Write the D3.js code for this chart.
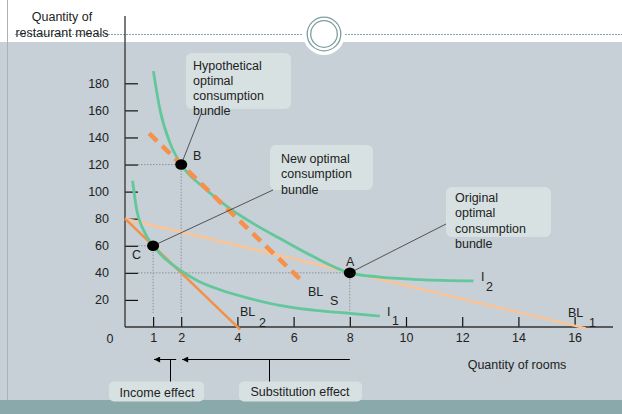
<!DOCTYPE html>
<html>
<head>
<meta charset="utf-8">
<script src="https://cdn.jsdelivr.net/npm/d3@7"></script>
<style>
  body { margin: 0; background: #fff; }
  svg { display: block; font-family: 'Liberation Sans', Arial, sans-serif; }
</style>
</head>
<body>
<div id="container"></div>
<script>
const w = 622
const h = 414
const fs = 12.5

// data
const xTicks = [1, 2, 4, 6, 8, 10, 12, 14, 16]
const yTicks = [20, 40, 60, 80, 100, 120, 140, 160, 180]
const bl1 = [[0, 80], [16.4, -1]]
const bl2 = [[0, 80], [4.1, -2]]
const blS = [[0.86, 143], [6.35, 33]]
const i1 = [[0.27, 108], [0.42, 86], [0.65, 72], [1, 60], [1.45, 50], [1.96, 42], [2.6, 34], [3.38, 27.5], [4.45, 21], [5.5, 16], [6.7, 12.5], [8, 10], [9.07, 8]]
const i2 = [[1.01, 189], [1.25, 160], [1.6, 136], [2, 120], [2.8, 103], [3.7, 88], [4.6, 76], [5.5, 65.5], [6.7, 52], [8, 40], [9, 37], [10.5, 35], [12.4, 34]]
const points = [
  { name: 'A', x: 8, y: 40 },
  { name: 'B', x: 2, y: 120 },
  { name: 'C', x: 1, y: 60 }
]

const svg = d3.select('#container')
              .append('svg')
              .attr('width', w)
              .attr('height', h)

// background
svg.append('rect').attr('x', 0).attr('y', 0).attr('width', w).attr('height', h).attr('fill', '#fff')
svg.append('rect').attr('x', 0).attr('y', 42).attr('width', w).attr('height', 358).attr('fill', '#c6d0d6')
svg.append('rect').attr('x', 0).attr('y', 400).attr('width', w).attr('height', 14).attr('fill', '#8aa9aa')
svg.append('line').attr('x1', 7.5).attr('x2', 7.5).attr('y1', 0).attr('y2', 400)
   .attr('stroke', '#a9b3b8').attr('stroke-width', 1)
svg.append('line').attr('x1', 15).attr('x2', w).attr('y1', 34.5).attr('y2', 34.5)
   .attr('stroke', '#86a6ad').attr('stroke-width', 1).attr('stroke-dasharray', '2,1')
svg.append('circle').attr('cx', 324).attr('cy', 34).attr('r', 21).attr('fill', '#fff')
svg.append('circle').attr('cx', 324).attr('cy', 34).attr('r', 16.8).attr('fill', 'none')
   .attr('stroke', '#7f9ea0').attr('stroke-width', 1.3)
svg.append('circle').attr('cx', 324).attr('cy', 34).attr('r', 13.3).attr('fill', 'none')
   .attr('stroke', '#7f9ea0').attr('stroke-width', 1.3)

svg.append('text').attr('x', 62).attr('y', 21).attr('text-anchor', 'middle')
   .attr('font-size', fs).attr('fill', '#222').text('Quantity of')
svg.append('text').attr('x', 62).attr('y', 37).attr('text-anchor', 'middle')
   .attr('font-size', fs).attr('fill', '#222').text('restaurant meals')

// Scales
const xScale = d3.scaleLinear().domain([0, 16]).range([125, 574.6])
const yScale = d3.scaleLinear().domain([0, 180]).range([327, 83.3])

// Axis
const xAxis = d3.axisBottom(xScale).tickValues(xTicks).tickSize(-10).tickPadding(6)
const yAxis = d3.axisLeft(yScale).tickValues(yTicks).tickSize(-13).tickPadding(16)

const gx = svg.append('g').attr('transform', 'translate(0,' + yScale(0) + ')').call(xAxis)
const gy = svg.append('g').attr('transform', 'translate(' + xScale(0) + ',0)').call(yAxis)
;[gx, gy].forEach(g => {
  g.select('.domain').remove()
  g.selectAll('line').attr('stroke', '#111').attr('stroke-width', 1.2)
  g.selectAll('text').attr('font-size', fs).attr('fill', '#222')
   .style('font-family', "'Liberation Sans', Arial, sans-serif")
})
svg.append('text').attr('x', 110).attr('y', yScale(0) + 16).attr('text-anchor', 'middle')
   .attr('font-size', fs).attr('fill', '#222').text('0')
svg.append('line').attr('x1', xScale(0)).attr('x2', 613).attr('y1', yScale(0)).attr('y2', yScale(0))
   .attr('stroke', '#333').attr('stroke-width', 1.3)
svg.append('line').attr('x1', xScale(0)).attr('x2', xScale(0)).attr('y1', 16).attr('y2', yScale(0))
   .attr('stroke', '#333').attr('stroke-width', 1.3)
svg.append('text').attr('x', 517).attr('y', 369).attr('text-anchor', 'middle')
   .attr('font-size', fs).attr('fill', '#222').text('Quantity of rooms')

// dotted guides
const guides = svg.append('g').attr('stroke', '#8c959a').attr('stroke-width', 1).attr('stroke-dasharray', '1.5,1.5')
points.forEach(p => {
  guides.append('line').attr('x1', 138).attr('x2', xScale(p.x)).attr('y1', yScale(p.y)).attr('y2', yScale(p.y))
  guides.append('line').attr('x1', xScale(p.x)).attr('x2', xScale(p.x)).attr('y1', yScale(p.y)).attr('y2', 313)
})

// lines
const line = d3.line().x(d => xScale(d[0])).y(d => yScale(d[1]))
const curve = d3.line().x(d => xScale(d[0])).y(d => yScale(d[1])).curve(d3.curveMonotoneX)

svg.append('path').attr('d', line(bl1)).attr('fill', 'none').attr('stroke', '#fcc496').attr('stroke-width', 2.5)
svg.append('path').attr('d', line(bl2)).attr('fill', 'none').attr('stroke', '#f39148').attr('stroke-width', 2.5)
svg.append('path').attr('d', curve(i1)).attr('fill', 'none').attr('stroke', '#62c79a').attr('stroke-width', 2.8)
svg.append('path').attr('d', curve(i2)).attr('fill', 'none').attr('stroke', '#62c79a').attr('stroke-width', 2.8)
svg.append('path').attr('d', line(blS)).attr('fill', 'none').attr('stroke', '#f6904a')
   .attr('stroke-width', 4.5).attr('stroke-dasharray', '11,7')

// leaders
const leaders = svg.append('g').attr('stroke', '#333').attr('stroke-width', 0.8)
leaders.append('line').attr('x1', 201).attr('y1', 114).attr('x2', xScale(2)).attr('y2', yScale(120))
leaders.append('line').attr('x1', 273).attr('y1', 190).attr('x2', xScale(1)).attr('y2', yScale(60))
leaders.append('line').attr('x1', 446).attr('y1', 224).attr('x2', xScale(8)).attr('y2', yScale(40))

// points
svg.selectAll('.pt').data(points).enter().append('ellipse')
   .attr('class', 'pt')
   .attr('cx', d => xScale(d.x)).attr('cy', d => yScale(d.y))
   .attr('rx', 6).attr('ry', 5.3).attr('fill', '#000')

const ptLabels = [['A', 346, 266], ['B', 193, 160], ['C', 132, 259]]
ptLabels.forEach(l => {
  svg.append('text').attr('x', l[1]).attr('y', l[2]).attr('font-size', fs).attr('fill', '#222').text(l[0])
})

// curve labels with subscripts
const subLabels = [['BL', 'S', 308, 296, 330, 305], ['BL', '2', 240, 316, 259, 327], ['I', '1', 387, 316, 392, 325],
                   ['I', '2', 481, 281, 486, 291], ['BL', '1', 568, 317, 589, 327]]
subLabels.forEach(l => {
  svg.append('text').attr('x', l[2]).attr('y', l[3]).attr('font-size', fs).attr('fill', '#222').text(l[0])
  svg.append('text').attr('x', l[4]).attr('y', l[5]).attr('font-size', fs).attr('fill', '#222').text(l[1])
})

// annotation boxes
function box(x, y, bw, bh, lines, tx, ty) {
  svg.append('rect').attr('x', x).attr('y', y).attr('width', bw).attr('height', bh)
     .attr('rx', 6).attr('fill', '#d8e1e2')
  lines.forEach((t, i) => {
    svg.append('text').attr('x', tx).attr('y', ty + i * 15.3)
       .attr('font-size', fs).attr('fill', '#222').text(t)
  })
}
box(186, 53, 105, 56, ['Hypothetical', 'optimal', 'consumption', 'bundle'], 193, 69.5)
box(270, 145, 103, 45, ['New optimal', 'consumption', 'bundle'], 281, 163)
box(446, 187, 105, 50, ['Original', 'optimal', 'consumption', 'bundle'], 455, 202)

// effect arrows
const defs = svg.append('defs')
defs.append('marker').attr('id', 'arr').attr('viewBox', '0 0 10 10').attr('refX', 10).attr('refY', 5)
    .attr('markerWidth', 9).attr('markerHeight', 6).attr('markerUnits', 'userSpaceOnUse').attr('orient', 'auto')
    .append('path').attr('d', 'M0,0 L10,5 L0,10 Z').attr('fill', '#000')
const ar = svg.append('g').attr('stroke', '#000').attr('stroke-width', 1)
ar.append('line').attr('x1', xScale(2) - 5).attr('x2', xScale(1) + 1).attr('y1', 359.5).attr('y2', 359.5).attr('marker-end', 'url(#arr)')
ar.append('line').attr('x1', xScale(8)).attr('x2', xScale(2) + 1).attr('y1', 359.5).attr('y2', 359.5).attr('marker-end', 'url(#arr)')
ar.append('line').attr('x1', 170.5).attr('x2', 170.5).attr('y1', 359.5).attr('y2', 382)
ar.append('line').attr('x1', 269.5).attr('x2', 269.5).attr('y1', 359.5).attr('y2', 382)
svg.append('rect').attr('x', 109).attr('y', 381.5).attr('width', 95).attr('height', 20).attr('rx', 5).attr('fill', '#d8e1e2')
svg.append('rect').attr('x', 239).attr('y', 381.5).attr('width', 123).attr('height', 20).attr('rx', 5).attr('fill', '#d8e1e2')
svg.append('text').attr('x', 157).attr('y', 397).attr('text-anchor', 'middle').attr('font-size', fs).attr('fill', '#222').text('Income effect')
svg.append('text').attr('x', 300).attr('y', 396).attr('text-anchor', 'middle').attr('font-size', fs).attr('fill', '#222').text('Substitution effect')
</script>
</body>
</html>
